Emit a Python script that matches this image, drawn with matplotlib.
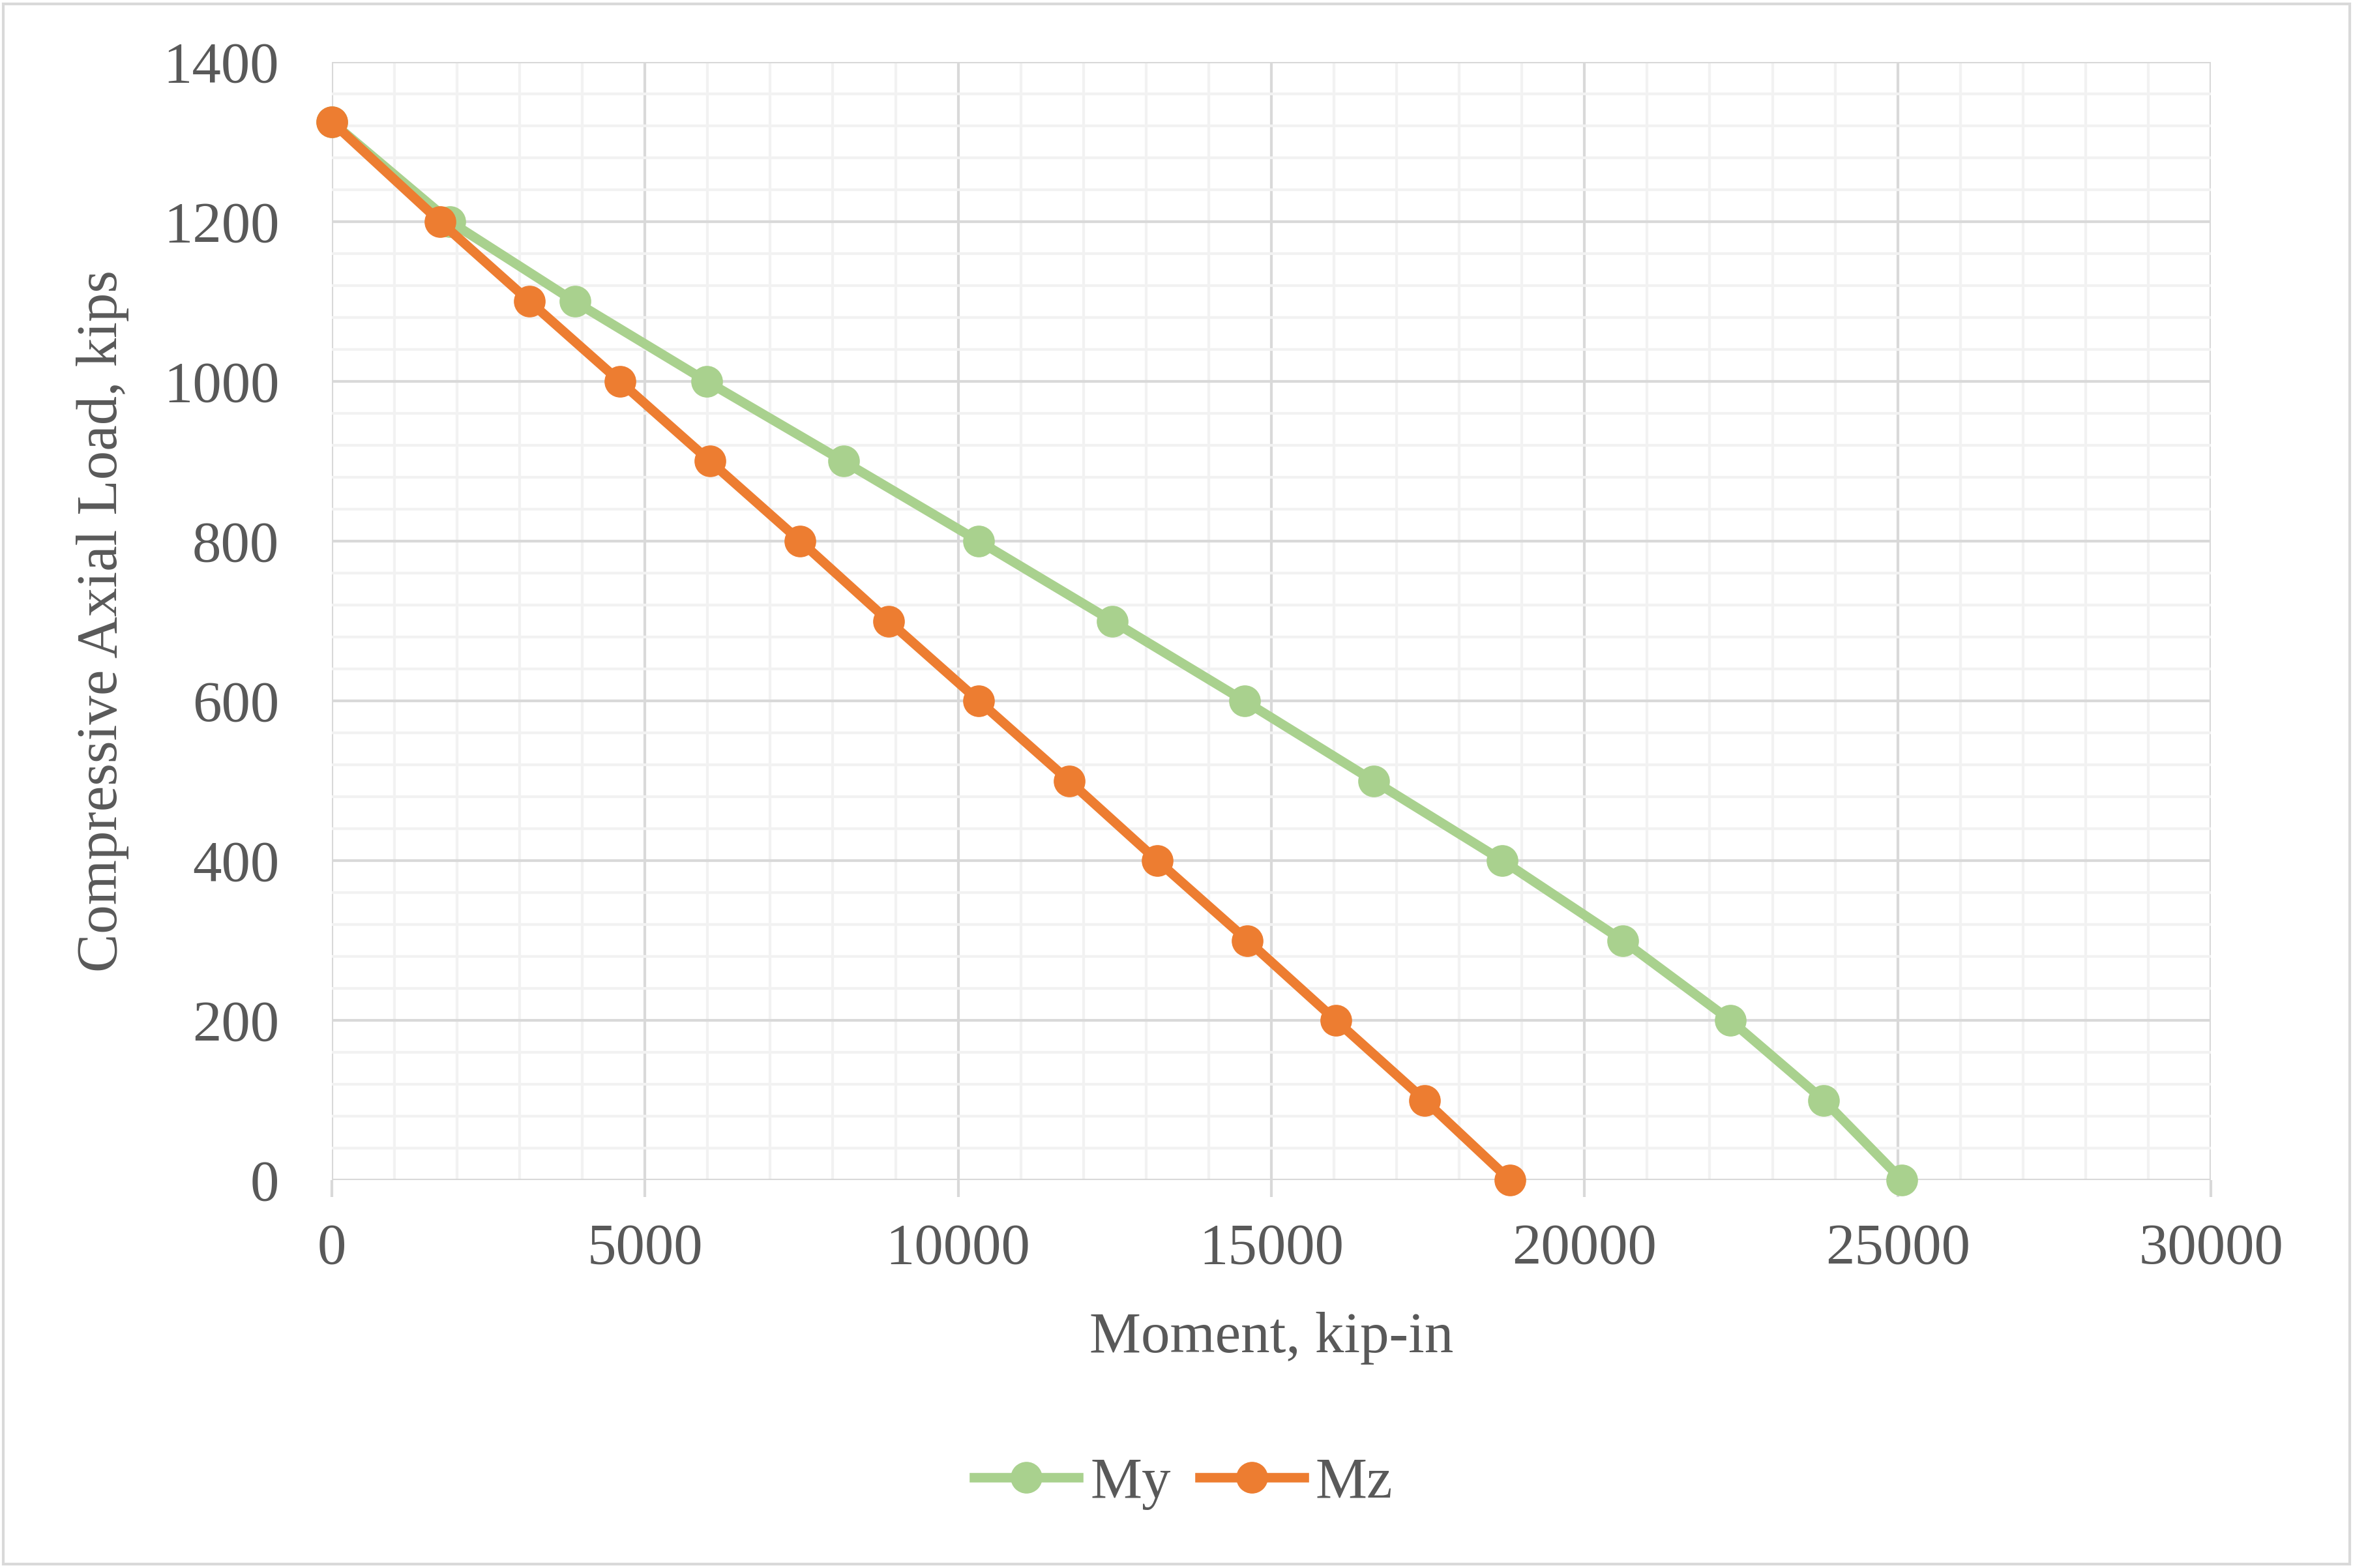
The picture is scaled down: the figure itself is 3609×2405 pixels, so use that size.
import matplotlib.pyplot as plt
from matplotlib.patches import Rectangle
from matplotlib.ticker import MultipleLocator

# interaction diagram points (moment in kip-in, axial load in kips)
load = [1325, 1200, 1100, 1000, 900, 800, 700, 600, 500, 400, 300, 200, 100, 0]
my_moment = [0, 1890, 3880, 5990, 8170, 10330, 12460, 14570, 16630, 18690,
             20610, 22330, 23820, 25070]
mz_moment = [0, 1730, 3160, 4600, 6040, 7480, 8890, 10330, 11770, 13180,
             14620, 16030, 17450, 18810]

green = '#A9D18E'
orange = '#ED7D31'
txt = '#595959'

plt.rcParams['font.family'] = ['Liberation Serif', 'DejaVu Serif']

fig = plt.figure(figsize=(36.09, 24.05), dpi=100)
ax = fig.add_axes([0.141, 0.2474, 0.7986, 0.7131])

ax.plot(my_moment, load, color=green, lw=10.5, marker='o', ms=34,
        label='My', clip_on=False, zorder=3)
ax.plot(mz_moment, load, color=orange, lw=10.5, marker='o', ms=34,
        label='Mz', clip_on=False, zorder=4)

ax.set_xlim(0, 30000)
ax.set_ylim(0, 1400)
ax.xaxis.set_major_locator(MultipleLocator(5000))
ax.xaxis.set_minor_locator(MultipleLocator(1000))
ax.yaxis.set_major_locator(MultipleLocator(200))
ax.yaxis.set_minor_locator(MultipleLocator(40))

ax.grid(which='minor', color='#F2F2F2', lw=3, zorder=0)
ax.grid(which='major', color='#D9D9D9', lw=3, zorder=1)
ax.set_axisbelow(True)
for s in ax.spines.values():
    s.set_visible(False)

ax.tick_params(axis='x', which='major', length=19, width=3, color='#D9D9D9',
               pad=28, labelsize=64, labelcolor=txt)
ax.tick_params(axis='y', which='major', length=0, pad=58, labelsize=64,
               labelcolor=txt)
ax.tick_params(which='minor', length=0)

ax.set_xlabel('Moment, kip-in', fontsize=64, color=txt, labelpad=40)
ax.set_ylabel('Compressive Axial Load, kips', fontsize=64, color=txt, labelpad=38)

leg = fig.legend(loc='center', bbox_to_anchor=(0.503, 0.054), ncol=2,
                 frameon=False, fontsize=64, handlelength=1.8,
                 handletextpad=0.2, columnspacing=0.5)
for t in leg.get_texts():
    t.set_color(txt)

# chart area border
fig.patches.append(Rectangle((0.0015, 0.0025), 0.997, 0.995, transform=fig.transFigure,
                             fill=False, edgecolor='#D9D9D9', lw=3))

fig.savefig('out.png', dpi=100)
